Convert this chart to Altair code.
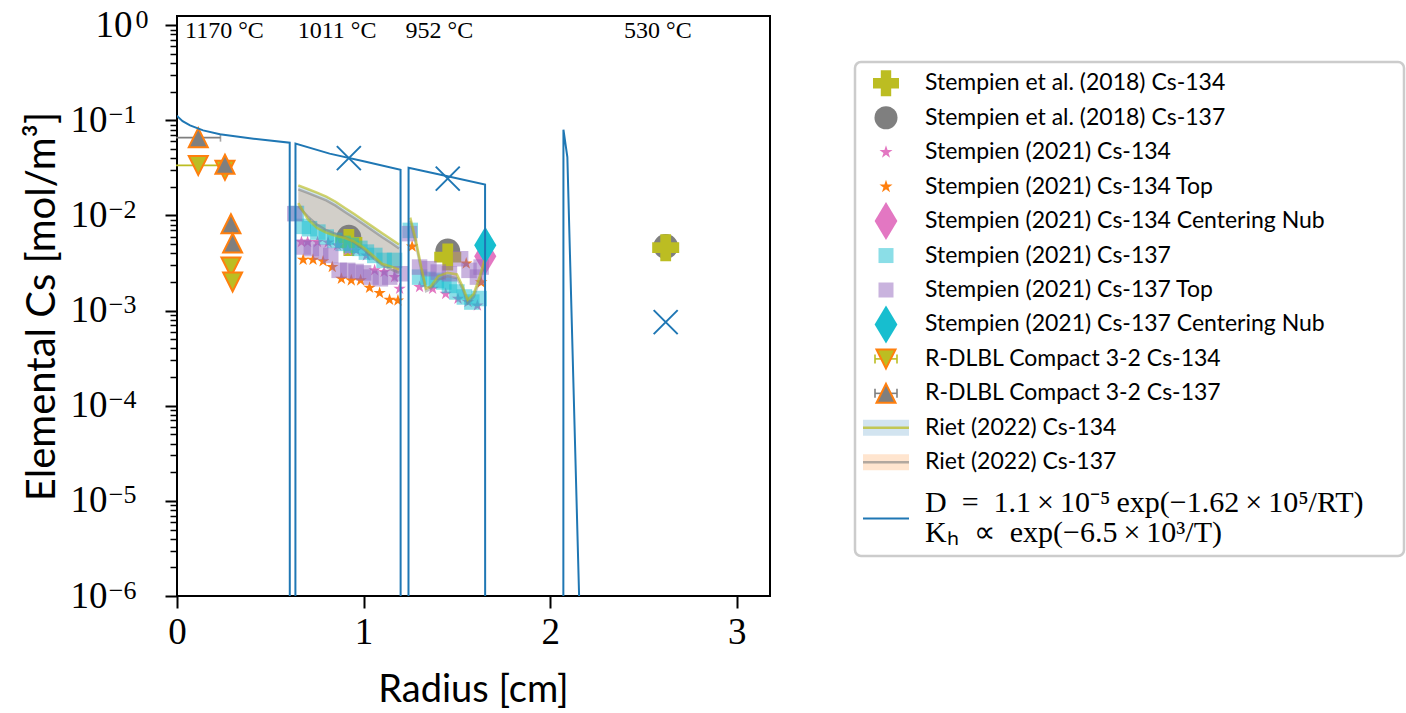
import math

import altair as alt
import pandas as pd

# ------------------------------------------------------------------ data
# diffusion / Henry model (blue line); the gaps drop far below the axis floor
model_r = [0.0, 0.007, 0.03, 0.07, 0.14, 0.23, 0.41, 0.604, 0.605, 0.634, 0.635, 0.818,
           1.006, 1.198, 1.199, 1.240, 1.241, 1.45, 1.651, 1.652, 2.070, 2.071, 2.092,
           2.155, 2.20]
model_v = [0.112, 0.108, 0.098, 0.0885, 0.0785, 0.0713, 0.0642, 0.0583, 1e-12, 1e-12,
           0.0569, 0.0447, 0.037, 0.0303, 1e-12, 1e-12, 0.0318, 0.0258, 0.0211, 1e-12,
           1e-12, 0.0798, 0.0411, 1e-6, 5e-10]
model_pts_r = [0.921, 1.451, 2.619]
model_pts_v = [0.0401, 0.0244, 0.000757]

s2018_r = [0.921, 1.451, 2.619]
s2018_cs134 = [0.0052, 0.00365, 0.00459]
s2018_cs137 = [0.0059, 0.00423, 0.00473]

s21_134_r = [0.667, 0.70, 0.753, 0.81, 0.86, 0.915, 0.96, 1.015, 1.059, 1.11, 1.166, 1.193,
             1.30, 1.37, 1.44, 1.506, 1.56, 1.61]
s21_134_v = [0.00525, 0.00525, 0.00525, 0.0052, 0.00485, 0.0043, 0.0043, 0.0038, 0.00265,
             0.00254, 0.00225, 0.0017, 0.00177, 0.0017, 0.0015, 0.00133, 0.00123, 0.00113]

s21_134top_r = [0.676, 0.729, 0.783, 0.832, 0.881, 0.934, 0.984, 1.032, 1.086, 1.139, 1.184,
                1.26, 1.55, 1.63]
s21_134top_v = [0.00343, 0.00343, 0.00331, 0.00287, 0.00216, 0.00208, 0.00208, 0.00174,
                0.00153, 0.0013, 0.00128, 0.00473, 0.00313, 0.00198]

s21_137_r = [0.64, 0.676, 0.71, 0.755, 0.80, 0.845, 0.89, 0.934, 0.98, 1.015, 1.06, 1.11,
             1.166, 1.25, 1.30, 1.345, 1.39, 1.43, 1.46, 1.50, 1.54, 1.58, 1.62]
s21_137_v = [0.0105, 0.00768, 0.00726, 0.00669, 0.00593, 0.00547, 0.00509, 0.00485, 0.00451,
             0.00412, 0.0038, 0.00337, 0.00337, 0.00697, 0.00225, 0.00213, 0.00208, 0.002,
             0.00184, 0.00157, 0.00139, 0.00123, 0.00134]

s21_137top_r = [0.631, 0.676, 0.72, 0.77, 0.824, 0.869, 0.915, 0.96, 1.00, 1.04, 1.09, 1.14,
                1.20, 1.246, 1.30, 1.35, 1.40, 1.46, 1.52, 1.565, 1.61, 1.63]
s21_137top_v = [0.01045, 0.00466, 0.00448, 0.00412, 0.0038, 0.00265, 0.00265, 0.00258,
                0.00249, 0.00225, 0.00216, 0.00225, 0.00244, 0.00644, 0.00287, 0.00276,
                0.00254, 0.00244, 0.00351, 0.00265, 0.00225, 0.00287]

nub_r = [1.652]
nub_cs134 = [0.00372]
nub_cs137 = [0.00486]

rdlbl_r = [0.114, 0.257, 0.289, 0.298]
rdlbl_rerr = [0.119, 0.0, 0.0, 0.0]
rdlbl_cs134 = [0.0336, 0.0298, 0.00287, 0.0020]
rdlbl_cs137 = [0.0658, 0.0345, 0.0082, 0.00513]

riet_r = [0.65, 0.70, 0.75, 0.80, 0.85, 0.90, 0.95, 1.00, 1.05, 1.10, 1.15, 1.19]
riet134_hi = [0.0207, 0.0190, 0.0174, 0.0158, 0.01396, 0.0120, 0.01035, 0.00885, 0.00759,
              0.0065, 0.00558, 0.00495]
riet134_lo = [0.0135, 0.0092, 0.0074, 0.0066, 0.0061, 0.0058, 0.0053, 0.0046, 0.0038,
              0.0031, 0.0029, 0.0027]
riet137_hi = [0.0188, 0.0173, 0.0158, 0.0144, 0.0127, 0.0109, 0.0094, 0.0081, 0.0069,
              0.0059, 0.0051, 0.0045]
riet137_lo = [0.0125, 0.0098, 0.0080, 0.0070, 0.0064, 0.0059, 0.0052, 0.0044, 0.0036,
              0.0030, 0.0027, 0.0025]
riet3_r = [1.25, 1.28, 1.31, 1.335, 1.36, 1.40, 1.45, 1.50, 1.53, 1.558, 1.59, 1.62, 1.648]
riet3_cs134 = [0.0095, 0.0055, 0.0028, 0.0017, 0.0018, 0.0023, 0.0025, 0.0024, 0.0018,
               0.0013, 0.0015, 0.0022, 0.0034]
riet3_cs137 = [0.0088, 0.0050, 0.0026, 0.0016, 0.0017, 0.0021, 0.0023, 0.0022, 0.0017,
               0.0012, 0.0014, 0.0020, 0.0031]

temp_labels = ["1170 °C", "1011 °C", "952 °C", "530 °C"]
temp_r = [0.043, 0.647, 1.225, 2.396]
temp_v = [0.88, 0.88, 0.88, 0.88]

x_ticks = [0, 1, 2, 3]
y_exponents = [-6, -5, -4, -3, -2, -1, 0]

legend_labels = [
    "Stempien et al. (2018) Cs-134",
    "Stempien et al. (2018) Cs-137",
    "Stempien (2021) Cs-134",
    "Stempien (2021) Cs-134 Top",
    "Stempien (2021) Cs-134 Centering Nub",
    "Stempien (2021) Cs-137",
    "Stempien (2021) Cs-137 Top",
    "Stempien (2021) Cs-137 Centering Nub",
    "R-DLBL Compact 3-2 Cs-134",
    "R-DLBL Compact 3-2 Cs-137",
    "Riet (2022) Cs-134",
    "Riet (2022) Cs-137",
]
model_label_lines = [
    "D\u2002=\u20021.1\u2009×\u200910⁻⁵\u2009exp(−1.62\u2009×\u200910⁵/RT)",
    "Kₕ\u2002∝\u2002exp(−6.5\u2009×\u200910³/T)",
]

# ------------------------------------------------------------------ style / geometry
BLUE, ORANGE, PINK, GRAY = "#1f77b4", "#ff7f0e", "#e377c2", "#7f7f7f"
OLIVE, CYAN, PURPLE = "#bcbd22", "#17becf", "#9467bd"
SERIF, SANS = "Liberation Serif", "Lato"

W, H = 593, 580
X_MAX = 3.178
LOG_TOP, LOG_BOT = math.log10(1.25), -6.0


def star_path():
    p = []
    for k in range(10):
        a = math.radians(-90 + 36 * k)
        rad = 1.0 if k % 2 == 0 else 0.382
        p.append(f"{rad * math.cos(a):.3f},{rad * math.sin(a):.3f}")
    return "M" + "L".join(p) + "Z"


STAR = star_path()
THIN_DIAMOND = "M0,-1L0.6,0L0,1L-0.6,0Z"
TRI_UP = "M0,-1L1,1L-1,1Z"
TRI_DOWN = "M0,1L1,-1L-1,-1Z"
XMARK = "M-1,-1L1,1M-1,1L1,-1"

Y_MAJOR = [10.0 ** e for e in y_exponents]
Y_MINOR = [k * 10.0 ** e for e in y_exponents[:-1] for k in range(2, 10)]

X_SCALE = alt.Scale(domain=[0, X_MAX], nice=False, zero=False)
Y_SCALE = alt.Scale(type="log", domain=[10 ** LOG_BOT, 10 ** LOG_TOP], nice=False)

X_AXIS = alt.Axis(
    values=x_ticks, format="d", grid=False, domain=False,
    tickSize=12, tickWidth=2, tickColor="black",
    labelFont=SERIF, labelFontSize=37, labelColor="black", labelPadding=6,
    labelFlush=False, labelOverlap=False,
    title="Radius [cm]", titleFont=SANS, titleFontSize=38, titleFontWeight="normal",
    titleColor="black", titleX=296, titleY=94, titleBaseline="middle", titleAlign="center",
)


def mantissa_axis(values, padding, **extra):
    return alt.Axis(
        orient="left", values=values, grid=False, domain=False, labelExpr="'10'",
        tickSize=12, tickWidth=2, tickColor="black",
        labelFont=SERIF, labelFontSize=37, labelColor="black", labelAlign="right",
        labelPadding=padding, labelFlush=False, labelOverlap=False, **extra)


def exponent_axis(values, padding, expr):
    return alt.Axis(
        orient="left", values=values, grid=False, domain=False, ticks=False, tickSize=0,
        labelExpr=expr, labelFont=SERIF, labelFontSize=26, labelColor="black",
        labelAlign="right", labelPadding=padding, labelOffset=-6, labelFlush=False,
        labelOverlap=False, title=None)


# "10" part of 10^-6 .. 10^-1 (with the axis title) -- carried by the data layers
Y_AXIS = mantissa_axis(
    Y_MAJOR[:-1], 58,
    title="Elemental Cs [mol/m³]", titleFont=SANS, titleFontSize=40,
    titleFontWeight="normal", titleColor="black", titleAngle=270,
    titleX=-135, titleY=290, titleBaseline="middle", titleAlign="center",
)
TOP_MANTISSA_AXIS = mantissa_axis(Y_MAJOR[-1:], 33, title=None)
EXP_AXIS = exponent_axis(Y_MAJOR[:-1], 41,
                         "'−' + format(-round(log(datum.value)/LN10), 'd')")
TOP_EXP_AXIS = exponent_axis(Y_MAJOR[-1:], 29, "'0'")
Y_MINOR_AXIS = alt.Axis(
    orient="left", values=Y_MINOR, labels=False, grid=False, domain=False,
    tickSize=7, tickWidth=1.5, tickColor="black", title=None,
)


def X(field="r"):
    return alt.X(f"{field}:Q", scale=X_SCALE, axis=X_AXIS)


def Y(field="v"):
    return alt.Y(f"{field}:Q", scale=Y_SCALE, axis=Y_AXIS)


def pts(rs, vs):
    return pd.DataFrame({"r": rs, "v": vs})


def point_layer(rs, vs, shape, size, fill, opacity=1.0, stroke=None, sw=0):
    kw = dict(shape=shape, size=size, filled=True, color=fill, opacity=opacity)
    if stroke is not None:
        kw.update(stroke=stroke, strokeWidth=sw)
    return alt.Chart(pts(rs, vs)).mark_point(**kw).encode(x=X(), y=Y())


# ------------------------------------------------------------------ main plot
def band(lo, hi, color):
    df = pd.DataFrame({"r": riet_r, "lo": lo, "hi": hi})
    return alt.Chart(df).mark_area(color=color, opacity=0.2).encode(
        x=X(), y=Y("lo"), y2="hi:Q")


def lines(r, series, color, opacity):
    rows = []
    for gi, vals in enumerate(series):
        for rr, vv in zip(r, vals):
            rows.append({"r": rr, "v": vv, "g": gi})
    return alt.Chart(pd.DataFrame(rows)).mark_line(
        color=color, strokeWidth=2.5, opacity=opacity).encode(
        x=X(), y=Y(), detail="g:N")


bands = [band(riet137_lo, riet137_hi, ORANGE), band(riet134_lo, riet134_hi, BLUE)]

circles = point_layer(s2018_r, s2018_cs137, "circle", 616, GRAY)
pluses = point_layer(s2018_r, s2018_cs134, "cross", 729, OLIVE)
stars134 = point_layer(s21_134_r, s21_134_v, STAR, 170, PINK)
stars134top = point_layer(s21_134top_r, s21_134top_v, STAR, 170, ORANGE)
nub134 = point_layer(nub_r, nub_cs134, THIN_DIAMOND, 1369, PINK)
sq137 = point_layer(s21_137_r, s21_137_v, "square", 240, CYAN, opacity=0.5)
sq137top = point_layer(s21_137top_r, s21_137top_v, "square", 240, PURPLE, opacity=0.5)
nub137 = point_layer(nub_r, nub_cs137, THIN_DIAMOND, 1369, CYAN)

err_rows = []
for rr, ee, v134, v137 in zip(rdlbl_r, rdlbl_rerr, rdlbl_cs134, rdlbl_cs137):
    if ee > 0:
        err_rows.append({"r": rr - ee, "r2": rr + ee, "v": v137, "c": "137"})
        err_rows.append({"r": rr - ee, "r2": rr + ee, "v": v134, "c": "134"})
err_df = pd.DataFrame(err_rows)
err_color = alt.Color("c:N", scale=alt.Scale(domain=["134", "137"], range=[OLIVE, GRAY]),
                      legend=None)
err_rules = alt.Chart(err_df).mark_rule(strokeWidth=1.6).encode(
    x=X(), x2="r2:Q", y=Y(), color=err_color)
err_caps = alt.Chart(err_df).mark_tick(orient="vertical", size=8, thickness=1.6).encode(
    x=X("r2"), y=Y(), color=err_color)

tri134 = point_layer(rdlbl_r, rdlbl_cs134, TRI_DOWN, 361, OLIVE, stroke=ORANGE, sw=2)
tri137 = point_layer(rdlbl_r, rdlbl_cs137, TRI_UP, 361, GRAY, stroke=ORANGE, sw=2)

riet_lines = [
    lines(riet_r, [riet137_hi, riet137_lo], GRAY, 0.55),
    lines(riet_r, [riet134_hi, riet134_lo], OLIVE, 0.65),
    lines(riet3_r, [riet3_cs137], GRAY, 0.45),
    lines(riet3_r, [riet3_cs134], OLIVE, 0.65),
]

model_line = alt.Chart(pts(model_r, model_v)).mark_line(
    color=BLUE, strokeWidth=2, clip=True).encode(x=X(), y=Y(), order="r:Q")
model_marks = alt.Chart(pts(model_pts_r, model_pts_v)).mark_point(
    shape=XMARK, size=576, filled=False, color=BLUE, strokeWidth=2, opacity=1).encode(
    x=X(), y=Y())

temps = alt.Chart(pd.DataFrame({"r": temp_r, "v": temp_v, "t": temp_labels})).mark_text(
    font=SERIF, fontSize=24, align="left", baseline="middle", color="black").encode(
    x=X(), y=Y(), text="t:N")


# ------------------------------------------------------------------ legend (right of the axes)
def r_at(px):
    return px / W * X_MAX


def v_at(py):
    return 10 ** (LOG_TOP - py / H * (LOG_TOP - LOG_BOT))


BOX_X, BOX_Y = (678, 1227), (46, 540)
MARK_PX, TEXT_PX = 709, 748
SWATCH_PX, ERR_PX = (686, 732), (698, 720)


def row_py(i):
    return 67.3 + 34.45 * i


MODEL_ROW = len(legend_labels) + 0.63

box = alt.Chart(pd.DataFrame({"r": [r_at(BOX_X[0])], "r2": [r_at(BOX_X[1])],
                              "v": [v_at(BOX_Y[0])], "v2": [v_at(BOX_Y[1])]})).mark_rect(
    fill="white", stroke="#cccccc", strokeWidth=2.5, cornerRadius=6).encode(
    x=X(), x2="r2:Q", y=Y(), y2="v2:Q")


def leg_point(row, shape, size, fill, opacity=1.0, stroke=None, sw=0):
    return point_layer([r_at(MARK_PX)], [v_at(row_py(row))], shape, size, fill,
                       opacity=opacity, stroke=stroke, sw=sw)


def leg_err(row, color):
    y = v_at(row_py(row))
    df = pd.DataFrame({"r": [r_at(ERR_PX[0])], "r2": [r_at(ERR_PX[1])], "v": [y]})
    rule = alt.Chart(df).mark_rule(color=color, strokeWidth=1.6).encode(
        x=X(), x2="r2:Q", y=Y())
    caps = alt.Chart(pts([r_at(p) for p in ERR_PX], [y, y])).mark_tick(
        orient="vertical", size=9, thickness=1.6, color=color, opacity=1).encode(
        x=X(), y=Y())
    return [rule, caps]


def leg_band(row, band_color, line_color, line_opacity):
    py = row_py(row)
    df = pd.DataFrame({"r": [r_at(SWATCH_PX[0])], "r2": [r_at(SWATCH_PX[1])],
                       "v": [v_at(py - 8)], "v2": [v_at(py + 8)]})
    rect = alt.Chart(df).mark_rect(color=band_color, opacity=0.2).encode(
        x=X(), x2="r2:Q", y=Y(), y2="v2:Q")
    ldf = pd.DataFrame({"r": [r_at(SWATCH_PX[0])], "r2": [r_at(SWATCH_PX[1])],
                        "v": [v_at(py)]})
    line = alt.Chart(ldf).mark_rule(color=line_color, strokeWidth=2.5,
                                    opacity=line_opacity).encode(x=X(), x2="r2:Q", y=Y())
    return [rect, line]


leg_layers = [
    leg_point(0, "cross", 676, OLIVE),
    leg_point(1, "circle", 531, GRAY),
    leg_point(2, STAR, 190, PINK),
    leg_point(3, STAR, 190, ORANGE),
    leg_point(4, THIN_DIAMOND, 1444, PINK),
    leg_point(5, "square", 225, CYAN, opacity=0.5),
    leg_point(6, "square", 225, PURPLE, opacity=0.5),
    leg_point(7, THIN_DIAMOND, 1444, CYAN),
    *leg_err(8, OLIVE),
    leg_point(8, TRI_DOWN, 361, OLIVE, stroke=ORANGE, sw=2),
    *leg_err(9, GRAY),
    leg_point(9, TRI_UP, 361, GRAY, stroke=ORANGE, sw=2),
    *leg_band(10, BLUE, OLIVE, 0.75),
    *leg_band(11, ORANGE, GRAY, 0.6),
]
model_swatch = alt.Chart(pd.DataFrame({
    "r": [r_at(SWATCH_PX[0])], "r2": [r_at(SWATCH_PX[1])], "v": [v_at(row_py(MODEL_ROW))],
})).mark_rule(color=BLUE, strokeWidth=2).encode(x=X(), x2="r2:Q", y=Y())

leg_text = alt.Chart(pd.DataFrame({
    "r": [r_at(TEXT_PX)] * len(legend_labels),
    "v": [v_at(row_py(i)) for i in range(len(legend_labels))],
    "t": legend_labels,
})).mark_text(font=SANS, fontSize=23, align="left", baseline="middle",
              color="black").encode(x=X(), y=Y(), text="t:N")

model_text = alt.Chart(pd.DataFrame({
    "r": [r_at(TEXT_PX)] * 2,
    "v": [v_at(row_py(MODEL_ROW - 0.44)), v_at(row_py(MODEL_ROW + 0.43))],
    "t": model_label_lines,
})).mark_text(font=SERIF, fontSize=30, align="left", baseline="middle",
              color="black").encode(x=X(), y=Y(), text="t:N")

# ------------------------------------------------------------------ assemble
content = alt.layer(
    *bands, circles, pluses, stars134, stars134top, nub134, sq137, sq137top, nub137,
    err_rules, err_caps, tri134, tri137, *riet_lines, model_line, model_marks, temps,
    box, *leg_layers, model_swatch, leg_text, model_text,
)


def axis_carrier(axis):
    """Invisible layer that only draws an extra y axis (minor ticks, label parts)."""
    return alt.Chart(pts(model_pts_r, model_pts_v)).mark_point(opacity=0).encode(
        x=alt.X("r:Q", scale=X_SCALE, axis=None),
        y=alt.Y("v:Q", scale=Y_SCALE, axis=axis))


chart = alt.layer(
    content,
    axis_carrier(Y_MINOR_AXIS),
    axis_carrier(TOP_MANTISSA_AXIS),
    axis_carrier(EXP_AXIS),
    axis_carrier(TOP_EXP_AXIS),
).resolve_axis(x="independent", y="independent").properties(
    width=W, height=H,
    autosize=alt.AutoSizeParams(type="none"),
    padding={"left": 177, "top": 16, "right": 1406 - 177 - W, "bottom": 713 - 16 - H},
    background="white",
).configure_view(stroke="black", strokeWidth=2)

chart.save("out.html", embed_options={"renderer": "svg", "actions": False})
